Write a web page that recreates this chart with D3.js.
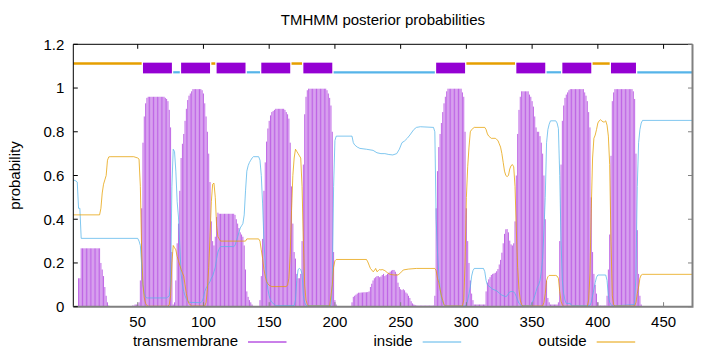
<!DOCTYPE html>
<html>
<head>
<meta charset="utf-8">
<script src="https://cdn.jsdelivr.net/npm/d3@7"></script>
<style>
  body { margin: 0; background: #fff; }
  text { font-family: "Liberation Sans", Arial, sans-serif; font-size: 15px; fill: #000; }
</style>
</head>
<body>
<div id="chart"></div>
<script>
// sequence range and axis ticks
const residueRange = [1, 472];
const xTicks = [50, 100, 150, 200, 250, 300, 350, 400, 450];
const yTicks = [0, 0.2, 0.4, 0.6, 0.8, 1, 1.2];

// posterior probability of transmembrane, one value per residue (1..472)
const tmProb = [
  0, 0, 0, 0, 0.13, 0.13, 0.267, 0.267, 0.267, 0.267,
  0.267, 0.267, 0.267, 0.267, 0.267, 0.267, 0.267, 0.267, 0.267, 0.267,
  0.267, 0.2, 0.17, 0.14, 0.09, 0.05, 0.02, 0.005, 0, 0,
  0, 0, 0, 0, 0, 0, 0, 0, 0, 0,
  0, 0, 0, 0, 0, 0.005, 0.005, 0.01, 0.01, 0.01,
  0.02, 0.12, 0.45, 0.75, 0.87, 0.93, 0.955, 0.96, 0.96, 0.96,
  0.96, 0.96, 0.96, 0.96, 0.96, 0.96, 0.96, 0.96, 0.96, 0.96,
  0.955, 0.95, 0.94, 0.9, 0.82, 0.25, 0.01, 0.02, 0.12, 0.29,
  0.38, 0.53, 0.68, 0.745, 0.79, 0.85, 0.905, 0.945, 0.965, 0.975,
  0.985, 0.995, 0.995, 0.995, 0.995, 0.995, 0.995, 0.995, 0.99, 0.975,
  0.93, 0.87, 0.8, 0.7, 0.57, 0.39, 0.3, 0.28, 0.32, 0.41,
  0.43, 0.425, 0.425, 0.425, 0.425, 0.425, 0.425, 0.425, 0.425, 0.425,
  0.425, 0.425, 0.425, 0.42, 0.4, 0.38, 0.36, 0.34, 0.33, 0.32,
  0.28, 0.17, 0.07, 0.045, 0.03, 0.02, 0.01, 0.003, 0.003, 0.003,
  0.003, 0.003, 0.03, 0.14, 0.31, 0.53, 0.66, 0.755, 0.815, 0.85,
  0.875, 0.89, 0.895, 0.9, 0.905, 0.905, 0.905, 0.905, 0.905, 0.905,
  0.905, 0.9, 0.89, 0.88, 0.86, 0.75, 0.55, 0.38, 0.25, 0.22,
  0.15, 0.13, 0.13, 0.15, 0.3, 0.65, 0.88, 0.96, 0.99, 0.997,
  0.997, 0.997, 0.997, 0.997, 0.997, 0.997, 0.997, 0.997, 0.997, 0.997,
  0.997, 0.997, 0.997, 0.99, 0.975, 0.955, 0.92, 0.8, 0.25, 0.03,
  0.01, 0.003, 0.003, 0.003, 0.003, 0.003, 0.003, 0.003, 0.003, 0.003,
  0.003, 0.003, 0.02, 0.045, 0.05, 0.055, 0.06, 0.064, 0.064, 0.065,
  0.065, 0.066, 0.066, 0.066, 0.067, 0.07, 0.09, 0.105, 0.12, 0.13,
  0.135, 0.14, 0.14, 0.135, 0.138, 0.145, 0.15, 0.14, 0.145, 0.15,
  0.155, 0.16, 0.165, 0.168, 0.168, 0.16, 0.15, 0.11, 0.09, 0.08,
  0.076, 0.08, 0.075, 0.065, 0.06, 0.05, 0.04, 0.025, 0.015, 0.01,
  0.008, 0.005, 0.005, 0.005, 0.005, 0.005, 0.005, 0.005, 0.005, 0.005,
  0.005, 0.005, 0.005, 0.005, 0.005, 0.05, 0.45, 0.62, 0.73, 0.79,
  0.84, 0.89, 0.93, 0.96, 0.985, 0.997, 0.997, 0.997, 0.997, 0.997,
  0.997, 0.997, 0.997, 0.997, 0.997, 0.997, 0.98, 0.96, 0.8, 0.45,
  0.3, 0.2, 0.12, 0.06, 0.03, 0.01, 0.01, 0.01, 0.01, 0.01,
  0.01, 0.01, 0.01, 0.01, 0.07, 0.11, 0.125, 0.135, 0.145, 0.15,
  0.152, 0.155, 0.162, 0.172, 0.193, 0.214, 0.247, 0.29, 0.333, 0.354,
  0.355, 0.34, 0.302, 0.285, 0.28, 0.29, 0.39, 0.6, 0.79, 0.9,
  0.96, 0.985, 0.985, 0.985, 0.985, 0.985, 0.985, 0.97, 0.96, 0.94,
  0.915, 0.87, 0.82, 0.8, 0.8, 0.78, 0.75, 0.7, 0.6, 0.4,
  0.12, 0.04, 0.02, 0.01, 0.01, 0.01, 0.01, 0.01, 0.01, 0.02,
  0.3, 0.65, 0.85, 0.92, 0.955, 0.97, 0.98, 0.99, 0.995, 0.995,
  0.995, 0.995, 0.995, 0.995, 0.995, 0.995, 0.995, 0.995, 0.995, 0.98,
  0.965, 0.94, 0.89, 0.82, 0.5, 0.25, 0.15, 0.1, 0.06, 0.02,
  0.005, 0.005, 0.005, 0.005, 0.005, 0.005, 0.05, 0.17, 0.33, 0.69,
  0.94, 0.98, 0.995, 0.995, 0.995, 0.995, 0.995, 0.995, 0.995, 0.995,
  0.995, 0.995, 0.995, 0.995, 0.995, 0.995, 0.985, 0.95, 0.7, 0.35,
  0.15, 0.05, 0.01, 0.003, 0.003, 0.003, 0.003, 0.003, 0.003, 0.003,
  0, 0, 0, 0, 0, 0, 0, 0, 0, 0,
  0, 0, 0, 0, 0, 0, 0, 0, 0, 0,
  0, 0, 0, 0, 0, 0, 0, 0, 0, 0,
  0, 0
];

// inside probability, [residue, value]
const insideProb = [
  [1, 0.58], [3, 0.575], [4, 0.57], [5, 0.45], [6, 0.45], [7, 0.3125], [50, 0.3125],
  [51, 0.3], [52, 0.28], [53, 0.19], [54, 0.1], [55, 0.06], [56, 0.045], [57, 0.04],
  [72, 0.04], [73, 0.045], [74, 0.05], [75, 0.1], [76, 0.55], [77, 0.72], [78, 0.71],
  [79, 0.62], [80, 0.48], [81, 0.41], [82, 0.28], [83, 0.15], [84, 0.1], [85, 0.07],
  [86, 0.05], [87, 0.035], [88, 0.025], [89, 0.02], [98, 0.018], [99, 0.025], [100, 0.04],
  [101, 0.07], [102, 0.085], [103, 0.095], [104, 0.105], [105, 0.115], [106, 0.13],
  [107, 0.14], [108, 0.16], [109, 0.18], [110, 0.22], [111, 0.25], [112, 0.265],
  [113, 0.275], [123, 0.275], [124, 0.28], [125, 0.3], [126, 0.32], [127, 0.34],
  [128, 0.36], [129, 0.37], [130, 0.38], [131, 0.42], [132, 0.53], [133, 0.62],
  [134, 0.645], [135, 0.66], [136, 0.67], [137, 0.68], [138, 0.686], [142, 0.686],
  [143, 0.67], [144, 0.6], [145, 0.47], [146, 0.3], [147, 0.2], [148, 0.13], [149, 0.08],
  [150, 0.05], [151, 0.03], [152, 0.02], [153, 0.015], [154, 0.01], [155, 0.005],
  [169, 0.005], [170, 0.03], [171, 0.12], [172, 0.17], [173, 0.175], [174, 0.17],
  [175, 0.15], [176, 0.05], [177, 0.02], [178, 0.005], [197, 0.005], [198, 0.1],
  [199, 0.55], [200, 0.76], [201, 0.78], [213, 0.78], [214, 0.75], [215, 0.74],
  [217, 0.73], [219, 0.724], [224, 0.72], [229, 0.715], [232, 0.704], [235, 0.7],
  [238, 0.7], [241, 0.696], [244, 0.694], [247, 0.7], [249, 0.72], [251, 0.75],
  [253, 0.758], [255, 0.77], [257, 0.785], [260, 0.81], [262, 0.82], [265, 0.823],
  [275, 0.82], [276, 0.8], [277, 0.4], [278, 0.25], [279, 0.15], [280, 0.08],
  [281, 0.04], [282, 0.02], [283, 0.01], [284, 0.003], [299, 0.003], [300, 0.01],
  [301, 0.03], [302, 0.06], [303, 0.09], [304, 0.14], [305, 0.165], [306, 0.175],
  [313, 0.175], [314, 0.16], [315, 0.12], [316, 0.1], [317, 0.095], [318, 0.09],
  [320, 0.08], [323, 0.073], [325, 0.062], [327, 0.053], [330, 0.046], [331, 0.05],
  [332, 0.06], [333, 0.068], [335, 0.07], [336, 0.068], [337, 0.06], [338, 0.046],
  [339, 0.03], [340, 0.015], [341, 0.01], [342, 0.005], [349, 0.005], [350, 0.02],
  [351, 0.03], [352, 0.05], [353, 0.07], [354, 0.09], [355, 0.1], [356, 0.12],
  [357, 0.16], [358, 0.22], [359, 0.35], [360, 0.5], [361, 0.75], [362, 0.81],
  [363, 0.835], [364, 0.85], [368, 0.85], [369, 0.84], [370, 0.815], [371, 0.6],
  [372, 0.3], [373, 0.12], [374, 0.06], [375, 0.03], [376, 0.015], [379, 0.015],
  [380, 0.005], [394, 0.005], [395, 0.02], [396, 0.05], [397, 0.08], [398, 0.11],
  [399, 0.135], [400, 0.145], [406, 0.145], [407, 0.12], [408, 0.05], [409, 0.02],
  [410, 0.01], [411, 0.003], [428, 0.01], [429, 0.15], [430, 0.55], [431, 0.75],
  [432, 0.81], [433, 0.84], [434, 0.852], [472, 0.852]
];

// outside probability, [residue, value]
const outsideProb = [
  [1, 0.42], [21, 0.42], [22, 0.45], [23, 0.52], [24, 0.56], [25, 0.58], [26, 0.6],
  [27, 0.67], [28, 0.685], [29, 0.686], [47, 0.686], [50, 0.68], [51, 0.675], [52, 0.55],
  [53, 0.25], [54, 0.1], [55, 0.04], [56, 0.015], [57, 0.005], [58, 0.002], [73, 0.002],
  [74, 0.01], [75, 0.05], [76, 0.2], [77, 0.28], [78, 0.27], [79, 0.26], [80, 0.23],
  [81, 0.21], [82, 0.19], [83, 0.17], [84, 0.155], [85, 0.14], [86, 0.1], [87, 0.06],
  [88, 0.03], [89, 0.015], [90, 0.008], [91, 0.003], [101, 0.003], [102, 0.02],
  [103, 0.08], [104, 0.18], [105, 0.32], [106, 0.48], [107, 0.56], [108, 0.565],
  [109, 0.5], [110, 0.37], [111, 0.32], [112, 0.31], [113, 0.3], [132, 0.3], [133, 0.31],
  [142, 0.31], [143, 0.3], [144, 0.26], [145, 0.22], [146, 0.17], [147, 0.14],
  [148, 0.115], [149, 0.105], [150, 0.098], [151, 0.095], [152, 0.092], [163, 0.092],
  [164, 0.1], [165, 0.13], [166, 0.24], [167, 0.44], [168, 0.6], [169, 0.68], [170, 0.72],
  [171, 0.71], [172, 0.7], [173, 0.69], [174, 0.68], [175, 0.55], [176, 0.3], [177, 0.1],
  [178, 0.03], [179, 0.01], [180, 0.003], [196, 0.003], [197, 0.05], [198, 0.1],
  [199, 0.18], [200, 0.21], [201, 0.216], [224, 0.216], [225, 0.205], [226, 0.19],
  [227, 0.175], [228, 0.168], [229, 0.16], [230, 0.165], [231, 0.175], [232, 0.16],
  [233, 0.165], [234, 0.17], [235, 0.168], [236, 0.17], [238, 0.165], [240, 0.155],
  [242, 0.148], [245, 0.145], [248, 0.145], [250, 0.155], [252, 0.168], [256, 0.172],
  [262, 0.175], [276, 0.175], [277, 0.165], [278, 0.13], [279, 0.11], [280, 0.08],
  [281, 0.05], [282, 0.03], [283, 0.01], [284, 0.003], [297, 0.003], [298, 0.03],
  [299, 0.2], [300, 0.5], [301, 0.64], [302, 0.73], [303, 0.8], [304, 0.81], [305, 0.815],
  [306, 0.82], [314, 0.82], [315, 0.81], [316, 0.79], [317, 0.78], [318, 0.775],
  [319, 0.77], [322, 0.77], [323, 0.765], [324, 0.76], [325, 0.745], [326, 0.73],
  [327, 0.7], [328, 0.66], [329, 0.62], [330, 0.6], [331, 0.595], [332, 0.6], [333, 0.63],
  [334, 0.645], [335, 0.65], [336, 0.64], [337, 0.55], [338, 0.35], [339, 0.18],
  [340, 0.08], [341, 0.03], [342, 0.01], [343, 0.003], [358, 0.003], [359, 0.02],
  [360, 0.06], [361, 0.12], [362, 0.137], [363, 0.143], [368, 0.143], [369, 0.14],
  [370, 0.13], [371, 0.07], [372, 0.025], [373, 0.008], [374, 0.002], [392, 0.002],
  [393, 0.03], [394, 0.15], [395, 0.45], [396, 0.68], [397, 0.77], [398, 0.785],
  [399, 0.81], [400, 0.84], [401, 0.85], [402, 0.855], [403, 0.85], [404, 0.845],
  [405, 0.845], [406, 0.85], [407, 0.83], [408, 0.78], [409, 0.65], [410, 0.3],
  [411, 0.05], [412, 0.01], [413, 0.003], [428, 0.003], [429, 0.02], [430, 0.06],
  [431, 0.09], [432, 0.13], [433, 0.145], [434, 0.148], [472, 0.148]
];

// predicted topology: [label, first residue, last residue]
const topology = [
  ["outside", 1, 53], ["TMhelix", 54, 76], ["inside", 77, 82], ["TMhelix", 83, 105],
  ["outside", 106, 109], ["TMhelix", 110, 132], ["inside", 133, 143], ["TMhelix", 144, 166],
  ["outside", 167, 175], ["TMhelix", 176, 198], ["inside", 199, 276], ["TMhelix", 277, 299],
  ["outside", 300, 337], ["TMhelix", 338, 360], ["inside", 361, 372], ["TMhelix", 373, 395],
  ["outside", 396, 409], ["TMhelix", 410, 429], ["inside", 430, 472]
];

const seriesNames = ["transmembrane", "inside", "outside"];
const chartTitle = "TMHMM posterior probabilities";
const yTitle = "probability";

const colors = { transmembrane: "#9400d3", inside: "#56b4e9", outside: "#e69f00" };
const width = 720, height = 352;
const plotLeft = 73.3, plotRight = 692.5, plotTop = 44.3, plotBottom = 306.7;

const x = d3.scaleLinear().domain(residueRange).range([plotLeft, plotRight]);
const y = d3.scaleLinear().domain([0, 1.2]).range([plotBottom, plotTop]);

const svg = d3.select("#chart").append("svg")
  .attr("width", width)
  .attr("height", height);

// transmembrane impulses
svg.append("g")
  .attr("stroke", colors.transmembrane)
  .attr("stroke-opacity", 0.6)
  .attr("stroke-width", 1)
  .selectAll("line")
  .data(tmProb.map((v, i) => [i + 1, v]))
  .join("line")
  .attr("x1", d => x(d[0]))
  .attr("x2", d => x(d[0]))
  .attr("y1", y(0))
  .attr("y2", d => y(d[1]));

// inside / outside lines
const line = d3.line().x(d => x(d[0])).y(d => y(d[1]));
svg.append("path")
  .datum(insideProb)
  .attr("fill", "none")
  .attr("stroke", colors.inside)
  .attr("stroke-opacity", 0.75)
  .attr("stroke-width", 1)
  .attr("d", line);
svg.append("path")
  .datum(outsideProb)
  .attr("fill", "none")
  .attr("stroke", colors.outside)
  .attr("stroke-opacity", 0.75)
  .attr("stroke-width", 1)
  .attr("d", line);

// topology band on top
const band = svg.append("g");
band.selectAll("rect")
  .data(topology.filter(d => d[0] === "TMhelix"))
  .join("rect")
  .attr("x", d => x(d[1]))
  .attr("width", d => x(d[2]) - x(d[1]))
  .attr("y", y(1.116))
  .attr("height", y(1.067) - y(1.116))
  .attr("fill", colors.transmembrane);
band.selectAll("line")
  .data(topology.filter(d => d[0] !== "TMhelix"))
  .join("line")
  .attr("x1", d => x(d[1]))
  .attr("x2", d => x(d[2]))
  .attr("y1", d => d[0] === "outside" ? y(1.112) : y(1.072))
  .attr("y2", d => d[0] === "outside" ? y(1.112) : y(1.072))
  .attr("stroke", d => colors[d[0]])
  .attr("stroke-width", d => d[0] === "outside" ? 2.5 : 2.2);

// border
svg.append("path")
  .attr("d", `M${plotLeft},${plotBottom}V${plotTop}H${plotRight}`)
  .attr("fill", "none").attr("stroke", "#000").attr("stroke-width", 1);
svg.append("path")
  .attr("d", `M${plotLeft},${plotBottom}H${plotRight}V${plotTop}`)
  .attr("fill", "none").attr("stroke", "#808080").attr("stroke-width", 2);

// ticks (inward, mirrored)
const tk = 4.5;
const ticks = svg.append("g").attr("stroke", "#000").attr("stroke-width", 1);
yTicks.forEach(t => {
  ticks.append("line").attr("x1", plotLeft).attr("x2", plotLeft + tk).attr("y1", y(t)).attr("y2", y(t));
  ticks.append("line").attr("x1", plotRight).attr("x2", plotRight - tk).attr("y1", y(t)).attr("y2", y(t)).attr("stroke", "#808080");
});
xTicks.forEach(t => {
  ticks.append("line").attr("x1", x(t)).attr("x2", x(t)).attr("y1", plotTop).attr("y2", plotTop + tk);
  ticks.append("line").attr("x1", x(t)).attr("x2", x(t)).attr("y1", plotBottom).attr("y2", plotBottom - tk).attr("stroke", "#808080");
});

// tick labels
svg.append("g").selectAll("text")
  .data(yTicks)
  .join("text")
  .attr("x", plotLeft - 9)
  .attr("y", d => y(d))
  .attr("dy", "0.36em")
  .attr("text-anchor", "end")
  .text(d => String(d));
svg.append("g").selectAll("text")
  .data(xTicks)
  .join("text")
  .attr("x", d => x(d))
  .attr("y", 326.7)
  .attr("text-anchor", "middle")
  .text(d => String(d));

// titles
svg.append("text")
  .attr("x", (plotLeft + plotRight) / 2)
  .attr("y", 25)
  .attr("text-anchor", "middle")
  .text(chartTitle);
svg.append("text")
  .attr("transform", `translate(20,${(plotTop + plotBottom) / 2}) rotate(-90)`)
  .attr("text-anchor", "middle")
  .text(yTitle);

// legend
const legendX = [238, 412.7, 586.7];
const legend = svg.append("g").selectAll("g")
  .data(seriesNames)
  .join("g")
  .attr("transform", (d, i) => `translate(${legendX[i]},346)`);
legend.append("text")
  .attr("text-anchor", "end")
  .text(d => d);
legend.append("line")
  .attr("x1", 10).attr("x2", 48.5)
  .attr("y1", -4).attr("y2", -4)
  .attr("stroke", d => colors[d])
  .attr("stroke-width", 1);
</script>
</body>
</html>
